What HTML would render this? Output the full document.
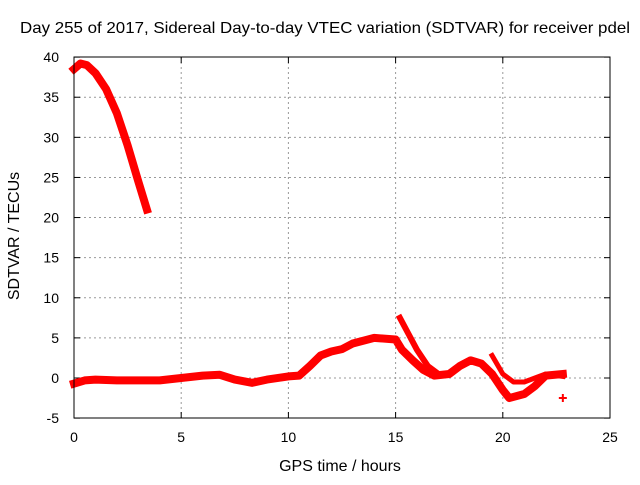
<!DOCTYPE html>
<html><head><meta charset="utf-8"><style>
body{margin:0;background:#fff}
svg text{font-family:"Liberation Sans",sans-serif;font-size:14px;fill:#000}
</style></head><body>
<svg id="c" width="640" height="480">
<text x="20" y="33" textLength="610" lengthAdjust="spacingAndGlyphs" style="font-size:16px">Day 255 of 2017, Sidereal Day-to-day VTEC variation (SDTVAR) for receiver pdel</text>
<text x="340" y="471" text-anchor="middle" style="font-size:16px">GPS time / hours</text>
<text transform="translate(19,236) rotate(-90)" text-anchor="middle" style="font-size:16px">SDTVAR / TECUs</text>
<g id="grid"></g><g id="series"></g>
<rect x="74" y="57" width="536" height="361" fill="none" stroke="#000" stroke-width="1"/>
</svg>
<script>
const xTicks=[0,5,10,15,20,25];
const yTicks=[-5,0,5,10,15,20,25,30,35,40];
const s1X=[0,0.3,0.6,1,1.5,2,2.5,3,3.4];
const s1Y=[38.5,39.2,39,38,36,33,29,24.5,21];
const s2X=[0,0.5,1,2,3,4,5,6,6.8,7.5,8.3,9,10,10.5,11,11.5,12,12.5,13,14,15,15.3,15.8,16.3,16.8,17.5,18,18.5,19,19.5,20,20.3,21,21.5,22,22.8];
const s2Y=[-0.7,-0.3,-0.2,-0.3,-0.3,-0.3,0,0.3,0.4,-0.2,-0.6,-0.2,0.2,0.3,1.5,2.8,3.3,3.6,4.3,5,4.8,3.5,2.2,1,0.3,0.5,1.5,2.2,1.8,0.5,-1.5,-2.5,-2,-1,0.3,0.5];
const s3X=[15.2,15.6,16,16.5,17];
const s3Y=[7.5,5.5,3.5,1.5,0.5];
const s4X=[19.5,20,20.5,21,21.5,22,22.8];
const s4Y=[2.8,0.5,-0.5,-0.5,0,0.5,0.2];
const outX=[22.8], outY=[-2.5];
const X=v=>74+v*536/25, Y=v=>378-v*361/45;
const NS="http://www.w3.org/2000/svg";
const g=document.getElementById('grid'), s=document.getElementById('series');
function mk(p,t,a){const e=document.createElementNS(NS,t);for(const k in a)e.setAttribute(k,a[k]);p.appendChild(e);return e;}
xTicks.forEach(v=>{
 if(v>0&&v<25){const l=mk(g,'line',{x1:X(v),x2:X(v),y1:57,y2:418,stroke:'#999','stroke-dasharray':'2,3'});
 
 }
 mk(g,'line',{x1:X(v),x2:X(v),y1:418,y2:412,stroke:'#000'});mk(g,'line',{x1:X(v),x2:X(v),y1:57,y2:63,stroke:'#000'});
 const t=mk(g,'text',{x:X(v),y:442,'text-anchor':'middle'});t.textContent=v;
 
 
});
yTicks.forEach(v=>{
 if(v>-5&&v<40){const l=mk(g,'line',{x1:74,x2:610,y1:Y(v),y2:Y(v),stroke:'#999','stroke-dasharray':'2,3'});
 
 }
 mk(g,'line',{x1:74,x2:80,y1:Y(v),y2:Y(v),stroke:'#000'});mk(g,'line',{x1:604,x2:610,y1:Y(v),y2:Y(v),stroke:'#000'});
 const t=mk(g,'text',{x:59,y:Y(v)+5,'text-anchor':'end'});t.textContent=v;
 
 
});
[[s1X,s1Y,8],[s2X,s2Y,8],[s3X,s3Y,6],[s4X,s4Y,5]].forEach(([xs,ys,w],i)=>{
 const p=mk(s,'polyline',{points:xs.map((x,j)=>X(x)+','+Y(ys[j])).join(' '),fill:'none',stroke:'#f00','stroke-width':w,'stroke-linejoin':'round','stroke-linecap':'square'});
 
 
});
outX.forEach((x,j)=>{
 const p=mk(s,'path',{d:`M${X(x)-4},${Y(outY[j])}h8M${X(x)},${Y(outY[j])-4}v8`,stroke:'#f00','stroke-width':2});
 
 
});
</script>
</body></html>
